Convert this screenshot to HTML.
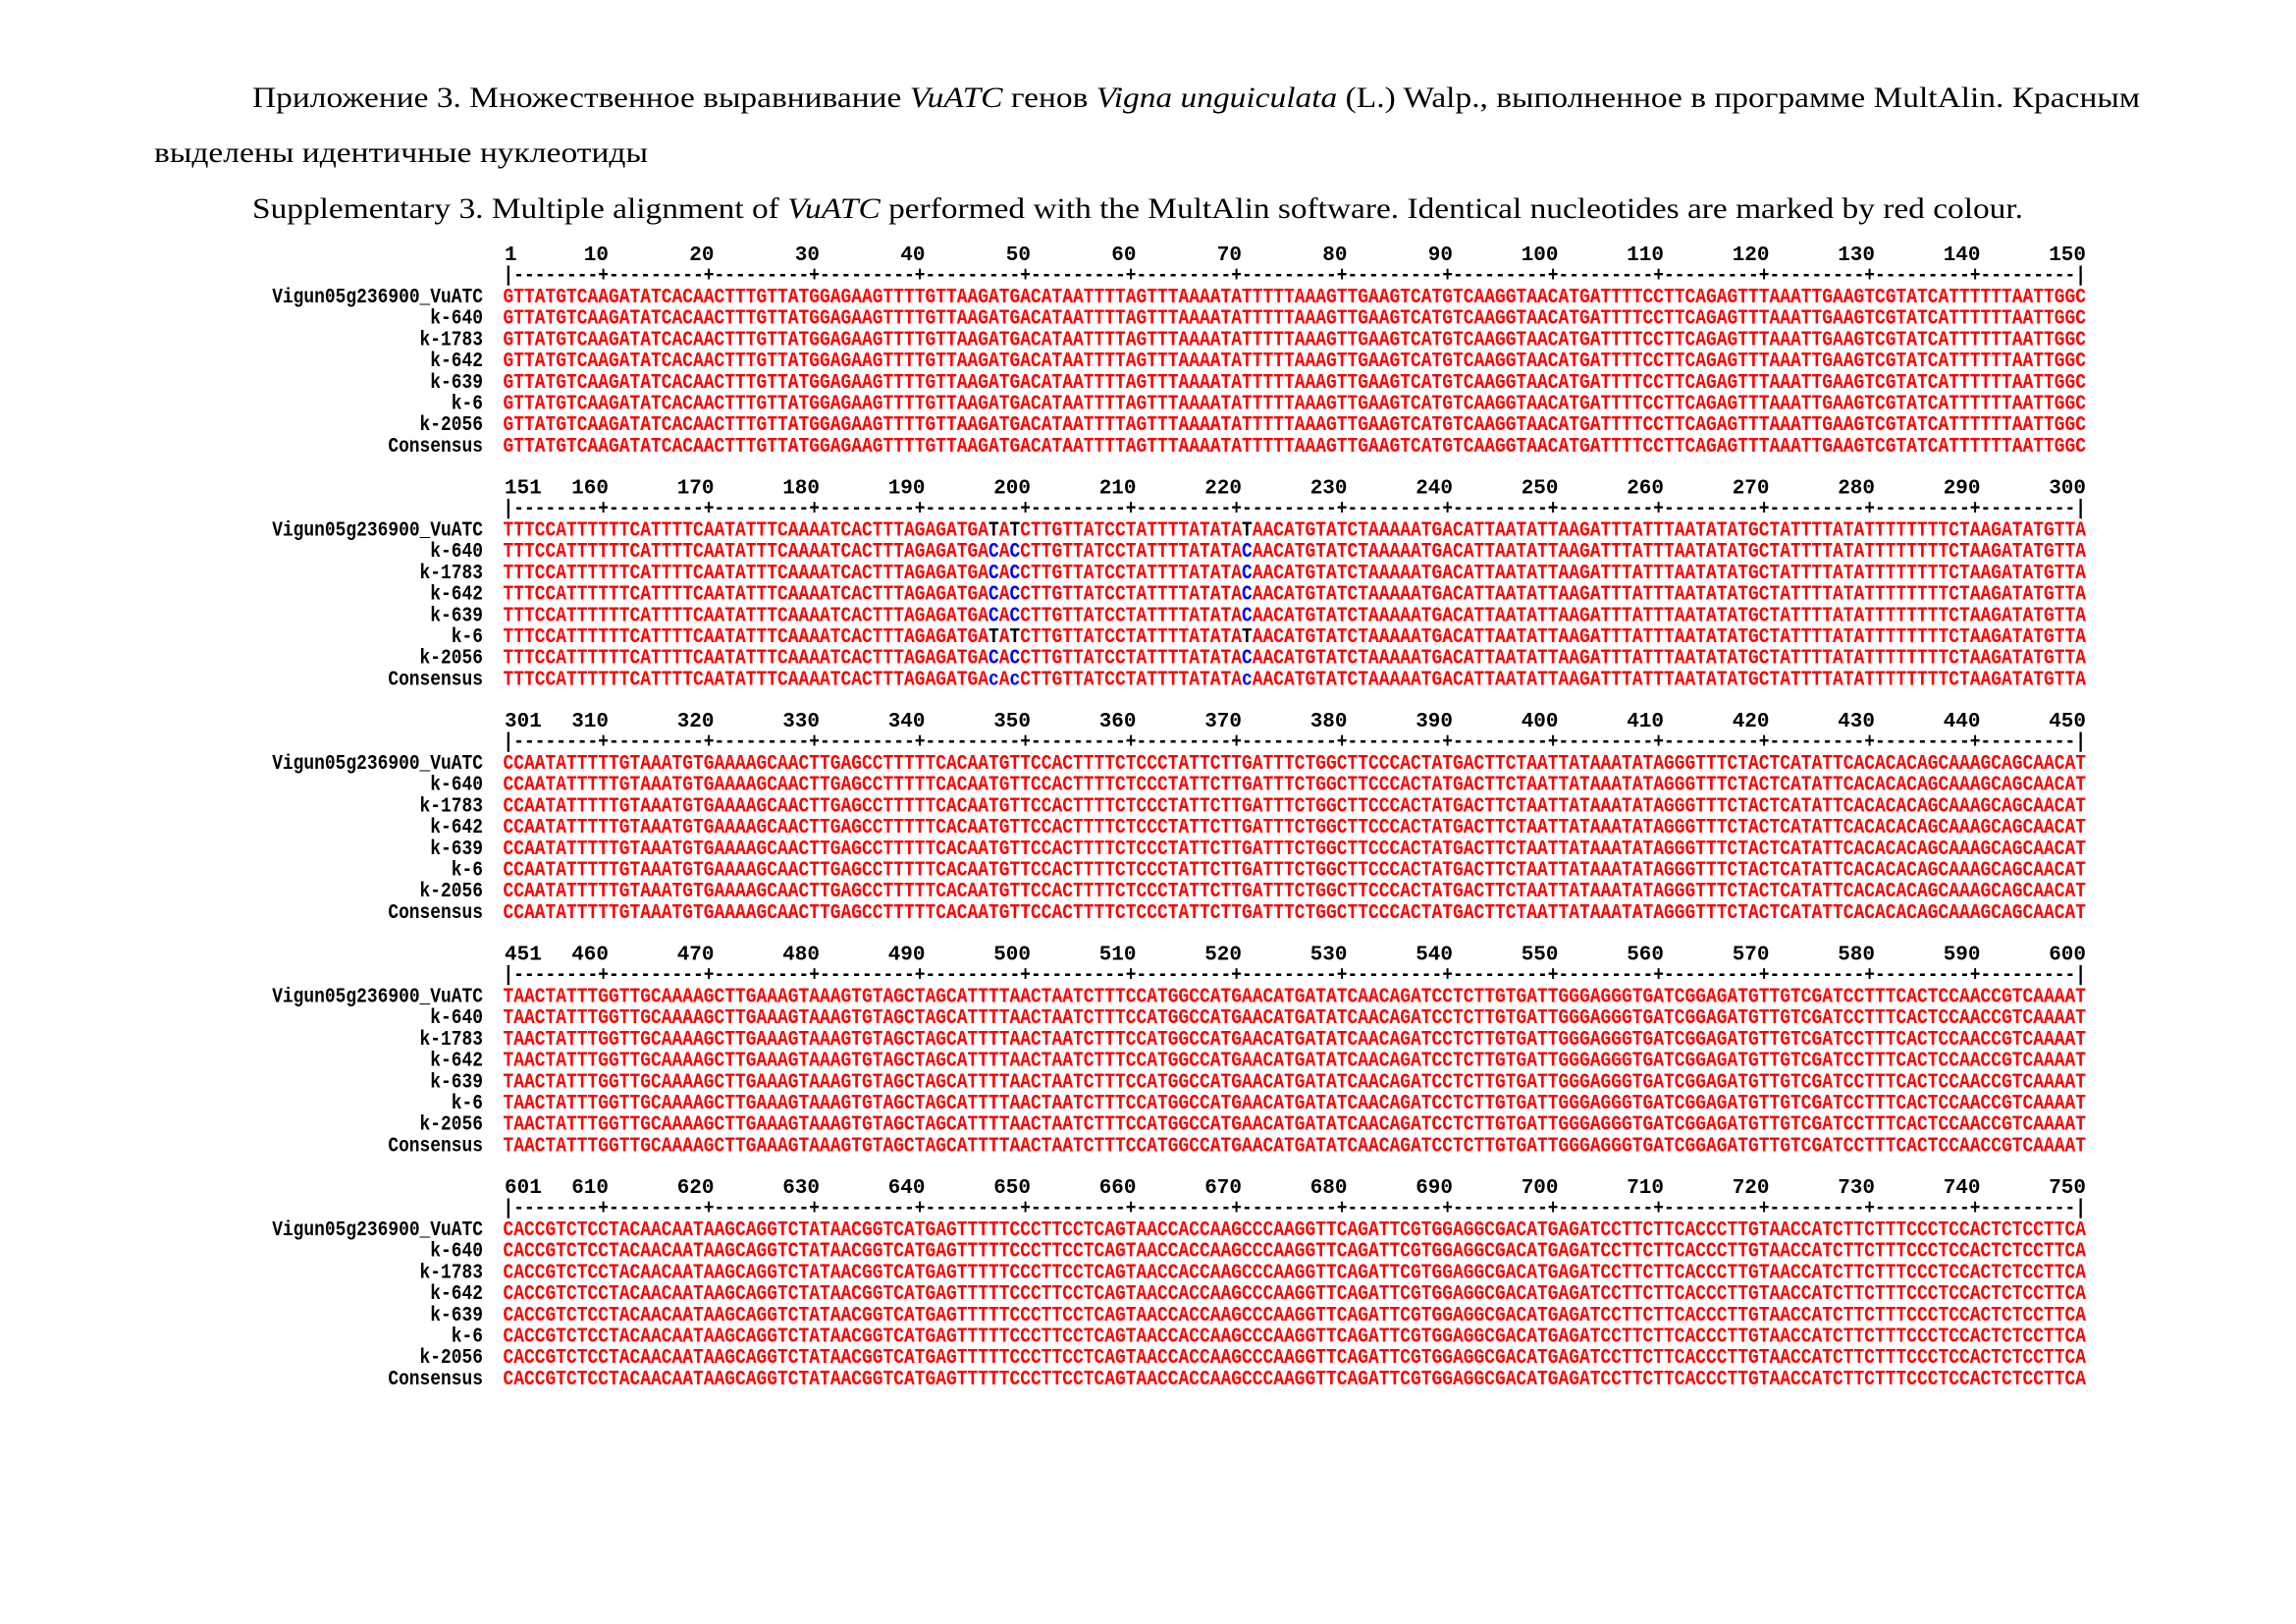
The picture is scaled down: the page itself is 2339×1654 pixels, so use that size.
<!DOCTYPE html>
<html><head><meta charset="utf-8"><style>
html,body{margin:0;padding:0;background:#fff;width:2339px;height:1654px;overflow:hidden}
svg{display:block}
.t{font-family:"Liberation Serif","Noto Serif CJK SC",serif;font-size:30px;fill:#000}
.m{font-family:"Liberation Mono",monospace;font-weight:bold;font-size:21px}
.k{fill:#000}.r{fill:#f00}.b{fill:#00f}
</style></head><body>
<svg width="2339" height="1654" viewBox="0 0 2339 1654" xmlns="http://www.w3.org/2000/svg">
<text class="t" x="257" y="109" textLength="1923" lengthAdjust="spacingAndGlyphs">Приложение 3. Множественное выравнивание <tspan font-style="italic">VuATC</tspan> генов <tspan font-style="italic">Vigna unguiculata</tspan> (L.) Walp., выполненное в программе MultAlin. Красным</text>
<text class="t" x="157" y="165" textLength="503" lengthAdjust="spacingAndGlyphs">выделены идентичные нуклеотиды</text>
<text class="t" x="257" y="222" textLength="1804" lengthAdjust="spacingAndGlyphs">Supplementary 3. Multiple alignment of <tspan font-style="italic">VuATC</tspan> performed with the MultAlin software. Identical nucleotides are marked by red colour.</text>

<!-- BLOCK 1 -->
<g class="m k">
<text x="514" y="265">1</text>
<text text-anchor="end" x="620" y="265">10</text><text text-anchor="end" x="727.5" y="265">20</text><text text-anchor="end" x="835" y="265">30</text><text text-anchor="end" x="942.5" y="265">40</text><text text-anchor="end" x="1050" y="265">50</text><text text-anchor="end" x="1157.5" y="265">60</text><text text-anchor="end" x="1265" y="265">70</text><text text-anchor="end" x="1372.5" y="265">80</text><text text-anchor="end" x="1480" y="265">90</text><text text-anchor="end" x="1587.5" y="265">100</text><text text-anchor="end" x="1695" y="265">110</text><text text-anchor="end" x="1802.5" y="265">120</text><text text-anchor="end" x="1910" y="265">130</text><text text-anchor="end" x="2017.5" y="265">140</text><text text-anchor="end" x="2125" y="265">150</text>
<text x="512.5" y="286" textLength="1612.5" lengthAdjust="spacingAndGlyphs">|--------+---------+---------+---------+---------+---------+---------+---------+---------+---------+---------+---------+---------+---------+---------|</text>
<g text-anchor="end" transform="translate(492,0) scale(0.853,1)">
<text x="0" y="308">Vigun05g236900_VuATC</text><text x="0" y="329.7">k-640</text><text x="0" y="351.4">k-1783</text><text x="0" y="373.1">k-642</text><text x="0" y="394.8">k-639</text><text x="0" y="416.5">k-6</text><text x="0" y="438.2">k-2056</text><text x="0" y="459.9">Consensus</text>
</g>
</g>
<g class="m r">
<text x="512.5" y="308" textLength="1612.5" lengthAdjust="spacingAndGlyphs">GTTATGTCAAGATATCACAACTTTGTTATGGAGAAGTTTTGTTAAGATGACATAATTTTAGTTTAAAATATTTTTAAAGTTGAAGTCATGTCAAGGTAACATGATTTTCCTTCAGAGTTTAAATTGAAGTCGTATCATTTTTTAATTGGC</text>
<text x="512.5" y="329.7" textLength="1612.5" lengthAdjust="spacingAndGlyphs">GTTATGTCAAGATATCACAACTTTGTTATGGAGAAGTTTTGTTAAGATGACATAATTTTAGTTTAAAATATTTTTAAAGTTGAAGTCATGTCAAGGTAACATGATTTTCCTTCAGAGTTTAAATTGAAGTCGTATCATTTTTTAATTGGC</text>
<text x="512.5" y="351.4" textLength="1612.5" lengthAdjust="spacingAndGlyphs">GTTATGTCAAGATATCACAACTTTGTTATGGAGAAGTTTTGTTAAGATGACATAATTTTAGTTTAAAATATTTTTAAAGTTGAAGTCATGTCAAGGTAACATGATTTTCCTTCAGAGTTTAAATTGAAGTCGTATCATTTTTTAATTGGC</text>
<text x="512.5" y="373.1" textLength="1612.5" lengthAdjust="spacingAndGlyphs">GTTATGTCAAGATATCACAACTTTGTTATGGAGAAGTTTTGTTAAGATGACATAATTTTAGTTTAAAATATTTTTAAAGTTGAAGTCATGTCAAGGTAACATGATTTTCCTTCAGAGTTTAAATTGAAGTCGTATCATTTTTTAATTGGC</text>
<text x="512.5" y="394.8" textLength="1612.5" lengthAdjust="spacingAndGlyphs">GTTATGTCAAGATATCACAACTTTGTTATGGAGAAGTTTTGTTAAGATGACATAATTTTAGTTTAAAATATTTTTAAAGTTGAAGTCATGTCAAGGTAACATGATTTTCCTTCAGAGTTTAAATTGAAGTCGTATCATTTTTTAATTGGC</text>
<text x="512.5" y="416.5" textLength="1612.5" lengthAdjust="spacingAndGlyphs">GTTATGTCAAGATATCACAACTTTGTTATGGAGAAGTTTTGTTAAGATGACATAATTTTAGTTTAAAATATTTTTAAAGTTGAAGTCATGTCAAGGTAACATGATTTTCCTTCAGAGTTTAAATTGAAGTCGTATCATTTTTTAATTGGC</text>
<text x="512.5" y="438.2" textLength="1612.5" lengthAdjust="spacingAndGlyphs">GTTATGTCAAGATATCACAACTTTGTTATGGAGAAGTTTTGTTAAGATGACATAATTTTAGTTTAAAATATTTTTAAAGTTGAAGTCATGTCAAGGTAACATGATTTTCCTTCAGAGTTTAAATTGAAGTCGTATCATTTTTTAATTGGC</text>
<text x="512.5" y="459.9" textLength="1612.5" lengthAdjust="spacingAndGlyphs">GTTATGTCAAGATATCACAACTTTGTTATGGAGAAGTTTTGTTAAGATGACATAATTTTAGTTTAAAATATTTTTAAAGTTGAAGTCATGTCAAGGTAACATGATTTTCCTTCAGAGTTTAAATTGAAGTCGTATCATTTTTTAATTGGC</text>
</g>

<!-- BLOCK 2 -->
<g transform="translate(0,237.5)">
<g class="m k">
<text x="514" y="265">151</text>
<text text-anchor="end" x="620" y="265">160</text><text text-anchor="end" x="727.5" y="265">170</text><text text-anchor="end" x="835" y="265">180</text><text text-anchor="end" x="942.5" y="265">190</text><text text-anchor="end" x="1050" y="265">200</text><text text-anchor="end" x="1157.5" y="265">210</text><text text-anchor="end" x="1265" y="265">220</text><text text-anchor="end" x="1372.5" y="265">230</text><text text-anchor="end" x="1480" y="265">240</text><text text-anchor="end" x="1587.5" y="265">250</text><text text-anchor="end" x="1695" y="265">260</text><text text-anchor="end" x="1802.5" y="265">270</text><text text-anchor="end" x="1910" y="265">280</text><text text-anchor="end" x="2017.5" y="265">290</text><text text-anchor="end" x="2125" y="265">300</text>
<text x="512.5" y="286" textLength="1612.5" lengthAdjust="spacingAndGlyphs">|--------+---------+---------+---------+---------+---------+---------+---------+---------+---------+---------+---------+---------+---------+---------|</text>
<g text-anchor="end" transform="translate(492,0) scale(0.853,1)">
<text x="0" y="308">Vigun05g236900_VuATC</text><text x="0" y="329.7">k-640</text><text x="0" y="351.4">k-1783</text><text x="0" y="373.1">k-642</text><text x="0" y="394.8">k-639</text><text x="0" y="416.5">k-6</text><text x="0" y="438.2">k-2056</text><text x="0" y="459.9">Consensus</text>
</g>
</g>
<g class="m r">
<text x="512.5" y="308" textLength="1612.5" lengthAdjust="spacingAndGlyphs">TTTCCATTTTTTCATTTTCAATATTTCAAAATCACTTTAGAGATGA<tspan class="k">T</tspan>A<tspan class="k">T</tspan>CTTGTTATCCTATTTTATATA<tspan class="k">T</tspan>AACATGTATCTAAAAATGACATTAATATTAAGATTTATTTAATATATGCTATTTTATATTTTTTTTCTAAGATATGTTA</text>
<text x="512.5" y="329.7" textLength="1612.5" lengthAdjust="spacingAndGlyphs">TTTCCATTTTTTCATTTTCAATATTTCAAAATCACTTTAGAGATGA<tspan class="b">C</tspan>A<tspan class="b">C</tspan>CTTGTTATCCTATTTTATATA<tspan class="b">C</tspan>AACATGTATCTAAAAATGACATTAATATTAAGATTTATTTAATATATGCTATTTTATATTTTTTTTCTAAGATATGTTA</text>
<text x="512.5" y="351.4" textLength="1612.5" lengthAdjust="spacingAndGlyphs">TTTCCATTTTTTCATTTTCAATATTTCAAAATCACTTTAGAGATGA<tspan class="b">C</tspan>A<tspan class="b">C</tspan>CTTGTTATCCTATTTTATATA<tspan class="b">C</tspan>AACATGTATCTAAAAATGACATTAATATTAAGATTTATTTAATATATGCTATTTTATATTTTTTTTCTAAGATATGTTA</text>
<text x="512.5" y="373.1" textLength="1612.5" lengthAdjust="spacingAndGlyphs">TTTCCATTTTTTCATTTTCAATATTTCAAAATCACTTTAGAGATGA<tspan class="b">C</tspan>A<tspan class="b">C</tspan>CTTGTTATCCTATTTTATATA<tspan class="b">C</tspan>AACATGTATCTAAAAATGACATTAATATTAAGATTTATTTAATATATGCTATTTTATATTTTTTTTCTAAGATATGTTA</text>
<text x="512.5" y="394.8" textLength="1612.5" lengthAdjust="spacingAndGlyphs">TTTCCATTTTTTCATTTTCAATATTTCAAAATCACTTTAGAGATGA<tspan class="b">C</tspan>A<tspan class="b">C</tspan>CTTGTTATCCTATTTTATATA<tspan class="b">C</tspan>AACATGTATCTAAAAATGACATTAATATTAAGATTTATTTAATATATGCTATTTTATATTTTTTTTCTAAGATATGTTA</text>
<text x="512.5" y="416.5" textLength="1612.5" lengthAdjust="spacingAndGlyphs">TTTCCATTTTTTCATTTTCAATATTTCAAAATCACTTTAGAGATGA<tspan class="k">T</tspan>A<tspan class="k">T</tspan>CTTGTTATCCTATTTTATATA<tspan class="k">T</tspan>AACATGTATCTAAAAATGACATTAATATTAAGATTTATTTAATATATGCTATTTTATATTTTTTTTCTAAGATATGTTA</text>
<text x="512.5" y="438.2" textLength="1612.5" lengthAdjust="spacingAndGlyphs">TTTCCATTTTTTCATTTTCAATATTTCAAAATCACTTTAGAGATGA<tspan class="b">C</tspan>A<tspan class="b">C</tspan>CTTGTTATCCTATTTTATATA<tspan class="b">C</tspan>AACATGTATCTAAAAATGACATTAATATTAAGATTTATTTAATATATGCTATTTTATATTTTTTTTCTAAGATATGTTA</text>
<text x="512.5" y="459.9" textLength="1612.5" lengthAdjust="spacingAndGlyphs">TTTCCATTTTTTCATTTTCAATATTTCAAAATCACTTTAGAGATGA<tspan class="b">c</tspan>A<tspan class="b">c</tspan>CTTGTTATCCTATTTTATATA<tspan class="b">c</tspan>AACATGTATCTAAAAATGACATTAATATTAAGATTTATTTAATATATGCTATTTTATATTTTTTTTCTAAGATATGTTA</text>
</g>
</g>

<!-- BLOCK 3 -->
<g transform="translate(0,475)">
<g class="m k">
<text x="514" y="265">301</text>
<text text-anchor="end" x="620" y="265">310</text><text text-anchor="end" x="727.5" y="265">320</text><text text-anchor="end" x="835" y="265">330</text><text text-anchor="end" x="942.5" y="265">340</text><text text-anchor="end" x="1050" y="265">350</text><text text-anchor="end" x="1157.5" y="265">360</text><text text-anchor="end" x="1265" y="265">370</text><text text-anchor="end" x="1372.5" y="265">380</text><text text-anchor="end" x="1480" y="265">390</text><text text-anchor="end" x="1587.5" y="265">400</text><text text-anchor="end" x="1695" y="265">410</text><text text-anchor="end" x="1802.5" y="265">420</text><text text-anchor="end" x="1910" y="265">430</text><text text-anchor="end" x="2017.5" y="265">440</text><text text-anchor="end" x="2125" y="265">450</text>
<text x="512.5" y="286" textLength="1612.5" lengthAdjust="spacingAndGlyphs">|--------+---------+---------+---------+---------+---------+---------+---------+---------+---------+---------+---------+---------+---------+---------|</text>
<g text-anchor="end" transform="translate(492,0) scale(0.853,1)">
<text x="0" y="308">Vigun05g236900_VuATC</text><text x="0" y="329.7">k-640</text><text x="0" y="351.4">k-1783</text><text x="0" y="373.1">k-642</text><text x="0" y="394.8">k-639</text><text x="0" y="416.5">k-6</text><text x="0" y="438.2">k-2056</text><text x="0" y="459.9">Consensus</text>
</g>
</g>
<g class="m r">
<text x="512.5" y="308" textLength="1612.5" lengthAdjust="spacingAndGlyphs">CCAATATTTTTGTAAATGTGAAAAGCAACTTGAGCCTTTTTCACAATGTTCCACTTTTCTCCCTATTCTTGATTTCTGGCTTCCCACTATGACTTCTAATTATAAATATAGGGTTTCTACTCATATTCACACACAGCAAAGCAGCAACAT</text>
<text x="512.5" y="329.7" textLength="1612.5" lengthAdjust="spacingAndGlyphs">CCAATATTTTTGTAAATGTGAAAAGCAACTTGAGCCTTTTTCACAATGTTCCACTTTTCTCCCTATTCTTGATTTCTGGCTTCCCACTATGACTTCTAATTATAAATATAGGGTTTCTACTCATATTCACACACAGCAAAGCAGCAACAT</text>
<text x="512.5" y="351.4" textLength="1612.5" lengthAdjust="spacingAndGlyphs">CCAATATTTTTGTAAATGTGAAAAGCAACTTGAGCCTTTTTCACAATGTTCCACTTTTCTCCCTATTCTTGATTTCTGGCTTCCCACTATGACTTCTAATTATAAATATAGGGTTTCTACTCATATTCACACACAGCAAAGCAGCAACAT</text>
<text x="512.5" y="373.1" textLength="1612.5" lengthAdjust="spacingAndGlyphs">CCAATATTTTTGTAAATGTGAAAAGCAACTTGAGCCTTTTTCACAATGTTCCACTTTTCTCCCTATTCTTGATTTCTGGCTTCCCACTATGACTTCTAATTATAAATATAGGGTTTCTACTCATATTCACACACAGCAAAGCAGCAACAT</text>
<text x="512.5" y="394.8" textLength="1612.5" lengthAdjust="spacingAndGlyphs">CCAATATTTTTGTAAATGTGAAAAGCAACTTGAGCCTTTTTCACAATGTTCCACTTTTCTCCCTATTCTTGATTTCTGGCTTCCCACTATGACTTCTAATTATAAATATAGGGTTTCTACTCATATTCACACACAGCAAAGCAGCAACAT</text>
<text x="512.5" y="416.5" textLength="1612.5" lengthAdjust="spacingAndGlyphs">CCAATATTTTTGTAAATGTGAAAAGCAACTTGAGCCTTTTTCACAATGTTCCACTTTTCTCCCTATTCTTGATTTCTGGCTTCCCACTATGACTTCTAATTATAAATATAGGGTTTCTACTCATATTCACACACAGCAAAGCAGCAACAT</text>
<text x="512.5" y="438.2" textLength="1612.5" lengthAdjust="spacingAndGlyphs">CCAATATTTTTGTAAATGTGAAAAGCAACTTGAGCCTTTTTCACAATGTTCCACTTTTCTCCCTATTCTTGATTTCTGGCTTCCCACTATGACTTCTAATTATAAATATAGGGTTTCTACTCATATTCACACACAGCAAAGCAGCAACAT</text>
<text x="512.5" y="459.9" textLength="1612.5" lengthAdjust="spacingAndGlyphs">CCAATATTTTTGTAAATGTGAAAAGCAACTTGAGCCTTTTTCACAATGTTCCACTTTTCTCCCTATTCTTGATTTCTGGCTTCCCACTATGACTTCTAATTATAAATATAGGGTTTCTACTCATATTCACACACAGCAAAGCAGCAACAT</text>
</g>
</g>

<!-- BLOCK 4 -->
<g transform="translate(0,712.5)">
<g class="m k">
<text x="514" y="265">451</text>
<text text-anchor="end" x="620" y="265">460</text><text text-anchor="end" x="727.5" y="265">470</text><text text-anchor="end" x="835" y="265">480</text><text text-anchor="end" x="942.5" y="265">490</text><text text-anchor="end" x="1050" y="265">500</text><text text-anchor="end" x="1157.5" y="265">510</text><text text-anchor="end" x="1265" y="265">520</text><text text-anchor="end" x="1372.5" y="265">530</text><text text-anchor="end" x="1480" y="265">540</text><text text-anchor="end" x="1587.5" y="265">550</text><text text-anchor="end" x="1695" y="265">560</text><text text-anchor="end" x="1802.5" y="265">570</text><text text-anchor="end" x="1910" y="265">580</text><text text-anchor="end" x="2017.5" y="265">590</text><text text-anchor="end" x="2125" y="265">600</text>
<text x="512.5" y="286" textLength="1612.5" lengthAdjust="spacingAndGlyphs">|--------+---------+---------+---------+---------+---------+---------+---------+---------+---------+---------+---------+---------+---------+---------|</text>
<g text-anchor="end" transform="translate(492,0) scale(0.853,1)">
<text x="0" y="308">Vigun05g236900_VuATC</text><text x="0" y="329.7">k-640</text><text x="0" y="351.4">k-1783</text><text x="0" y="373.1">k-642</text><text x="0" y="394.8">k-639</text><text x="0" y="416.5">k-6</text><text x="0" y="438.2">k-2056</text><text x="0" y="459.9">Consensus</text>
</g>
</g>
<g class="m r">
<text x="512.5" y="308" textLength="1612.5" lengthAdjust="spacingAndGlyphs">TAACTATTTGGTTGCAAAAGCTTGAAAGTAAAGTGTAGCTAGCATTTTAACTAATCTTTCCATGGCCATGAACATGATATCAACAGATCCTCTTGTGATTGGGAGGGTGATCGGAGATGTTGTCGATCCTTTCACTCCAACCGTCAAAAT</text>
<text x="512.5" y="329.7" textLength="1612.5" lengthAdjust="spacingAndGlyphs">TAACTATTTGGTTGCAAAAGCTTGAAAGTAAAGTGTAGCTAGCATTTTAACTAATCTTTCCATGGCCATGAACATGATATCAACAGATCCTCTTGTGATTGGGAGGGTGATCGGAGATGTTGTCGATCCTTTCACTCCAACCGTCAAAAT</text>
<text x="512.5" y="351.4" textLength="1612.5" lengthAdjust="spacingAndGlyphs">TAACTATTTGGTTGCAAAAGCTTGAAAGTAAAGTGTAGCTAGCATTTTAACTAATCTTTCCATGGCCATGAACATGATATCAACAGATCCTCTTGTGATTGGGAGGGTGATCGGAGATGTTGTCGATCCTTTCACTCCAACCGTCAAAAT</text>
<text x="512.5" y="373.1" textLength="1612.5" lengthAdjust="spacingAndGlyphs">TAACTATTTGGTTGCAAAAGCTTGAAAGTAAAGTGTAGCTAGCATTTTAACTAATCTTTCCATGGCCATGAACATGATATCAACAGATCCTCTTGTGATTGGGAGGGTGATCGGAGATGTTGTCGATCCTTTCACTCCAACCGTCAAAAT</text>
<text x="512.5" y="394.8" textLength="1612.5" lengthAdjust="spacingAndGlyphs">TAACTATTTGGTTGCAAAAGCTTGAAAGTAAAGTGTAGCTAGCATTTTAACTAATCTTTCCATGGCCATGAACATGATATCAACAGATCCTCTTGTGATTGGGAGGGTGATCGGAGATGTTGTCGATCCTTTCACTCCAACCGTCAAAAT</text>
<text x="512.5" y="416.5" textLength="1612.5" lengthAdjust="spacingAndGlyphs">TAACTATTTGGTTGCAAAAGCTTGAAAGTAAAGTGTAGCTAGCATTTTAACTAATCTTTCCATGGCCATGAACATGATATCAACAGATCCTCTTGTGATTGGGAGGGTGATCGGAGATGTTGTCGATCCTTTCACTCCAACCGTCAAAAT</text>
<text x="512.5" y="438.2" textLength="1612.5" lengthAdjust="spacingAndGlyphs">TAACTATTTGGTTGCAAAAGCTTGAAAGTAAAGTGTAGCTAGCATTTTAACTAATCTTTCCATGGCCATGAACATGATATCAACAGATCCTCTTGTGATTGGGAGGGTGATCGGAGATGTTGTCGATCCTTTCACTCCAACCGTCAAAAT</text>
<text x="512.5" y="459.9" textLength="1612.5" lengthAdjust="spacingAndGlyphs">TAACTATTTGGTTGCAAAAGCTTGAAAGTAAAGTGTAGCTAGCATTTTAACTAATCTTTCCATGGCCATGAACATGATATCAACAGATCCTCTTGTGATTGGGAGGGTGATCGGAGATGTTGTCGATCCTTTCACTCCAACCGTCAAAAT</text>
</g>
</g>

<!-- BLOCK 5 -->
<g transform="translate(0,950)">
<g class="m k">
<text x="514" y="265">601</text>
<text text-anchor="end" x="620" y="265">610</text><text text-anchor="end" x="727.5" y="265">620</text><text text-anchor="end" x="835" y="265">630</text><text text-anchor="end" x="942.5" y="265">640</text><text text-anchor="end" x="1050" y="265">650</text><text text-anchor="end" x="1157.5" y="265">660</text><text text-anchor="end" x="1265" y="265">670</text><text text-anchor="end" x="1372.5" y="265">680</text><text text-anchor="end" x="1480" y="265">690</text><text text-anchor="end" x="1587.5" y="265">700</text><text text-anchor="end" x="1695" y="265">710</text><text text-anchor="end" x="1802.5" y="265">720</text><text text-anchor="end" x="1910" y="265">730</text><text text-anchor="end" x="2017.5" y="265">740</text><text text-anchor="end" x="2125" y="265">750</text>
<text x="512.5" y="286" textLength="1612.5" lengthAdjust="spacingAndGlyphs">|--------+---------+---------+---------+---------+---------+---------+---------+---------+---------+---------+---------+---------+---------+---------|</text>
<g text-anchor="end" transform="translate(492,0) scale(0.853,1)">
<text x="0" y="308">Vigun05g236900_VuATC</text><text x="0" y="329.7">k-640</text><text x="0" y="351.4">k-1783</text><text x="0" y="373.1">k-642</text><text x="0" y="394.8">k-639</text><text x="0" y="416.5">k-6</text><text x="0" y="438.2">k-2056</text><text x="0" y="459.9">Consensus</text>
</g>
</g>
<g class="m r">
<text x="512.5" y="308" textLength="1612.5" lengthAdjust="spacingAndGlyphs">CACCGTCTCCTACAACAATAAGCAGGTCTATAACGGTCATGAGTTTTTCCCTTCCTCAGTAACCACCAAGCCCAAGGTTCAGATTCGTGGAGGCGACATGAGATCCTTCTTCACCCTTGTAACCATCTTCTTTCCCTCCACTCTCCTTCA</text>
<text x="512.5" y="329.7" textLength="1612.5" lengthAdjust="spacingAndGlyphs">CACCGTCTCCTACAACAATAAGCAGGTCTATAACGGTCATGAGTTTTTCCCTTCCTCAGTAACCACCAAGCCCAAGGTTCAGATTCGTGGAGGCGACATGAGATCCTTCTTCACCCTTGTAACCATCTTCTTTCCCTCCACTCTCCTTCA</text>
<text x="512.5" y="351.4" textLength="1612.5" lengthAdjust="spacingAndGlyphs">CACCGTCTCCTACAACAATAAGCAGGTCTATAACGGTCATGAGTTTTTCCCTTCCTCAGTAACCACCAAGCCCAAGGTTCAGATTCGTGGAGGCGACATGAGATCCTTCTTCACCCTTGTAACCATCTTCTTTCCCTCCACTCTCCTTCA</text>
<text x="512.5" y="373.1" textLength="1612.5" lengthAdjust="spacingAndGlyphs">CACCGTCTCCTACAACAATAAGCAGGTCTATAACGGTCATGAGTTTTTCCCTTCCTCAGTAACCACCAAGCCCAAGGTTCAGATTCGTGGAGGCGACATGAGATCCTTCTTCACCCTTGTAACCATCTTCTTTCCCTCCACTCTCCTTCA</text>
<text x="512.5" y="394.8" textLength="1612.5" lengthAdjust="spacingAndGlyphs">CACCGTCTCCTACAACAATAAGCAGGTCTATAACGGTCATGAGTTTTTCCCTTCCTCAGTAACCACCAAGCCCAAGGTTCAGATTCGTGGAGGCGACATGAGATCCTTCTTCACCCTTGTAACCATCTTCTTTCCCTCCACTCTCCTTCA</text>
<text x="512.5" y="416.5" textLength="1612.5" lengthAdjust="spacingAndGlyphs">CACCGTCTCCTACAACAATAAGCAGGTCTATAACGGTCATGAGTTTTTCCCTTCCTCAGTAACCACCAAGCCCAAGGTTCAGATTCGTGGAGGCGACATGAGATCCTTCTTCACCCTTGTAACCATCTTCTTTCCCTCCACTCTCCTTCA</text>
<text x="512.5" y="438.2" textLength="1612.5" lengthAdjust="spacingAndGlyphs">CACCGTCTCCTACAACAATAAGCAGGTCTATAACGGTCATGAGTTTTTCCCTTCCTCAGTAACCACCAAGCCCAAGGTTCAGATTCGTGGAGGCGACATGAGATCCTTCTTCACCCTTGTAACCATCTTCTTTCCCTCCACTCTCCTTCA</text>
<text x="512.5" y="459.9" textLength="1612.5" lengthAdjust="spacingAndGlyphs">CACCGTCTCCTACAACAATAAGCAGGTCTATAACGGTCATGAGTTTTTCCCTTCCTCAGTAACCACCAAGCCCAAGGTTCAGATTCGTGGAGGCGACATGAGATCCTTCTTCACCCTTGTAACCATCTTCTTTCCCTCCACTCTCCTTCA</text>
</g>
</g>
</svg>
</body></html>
